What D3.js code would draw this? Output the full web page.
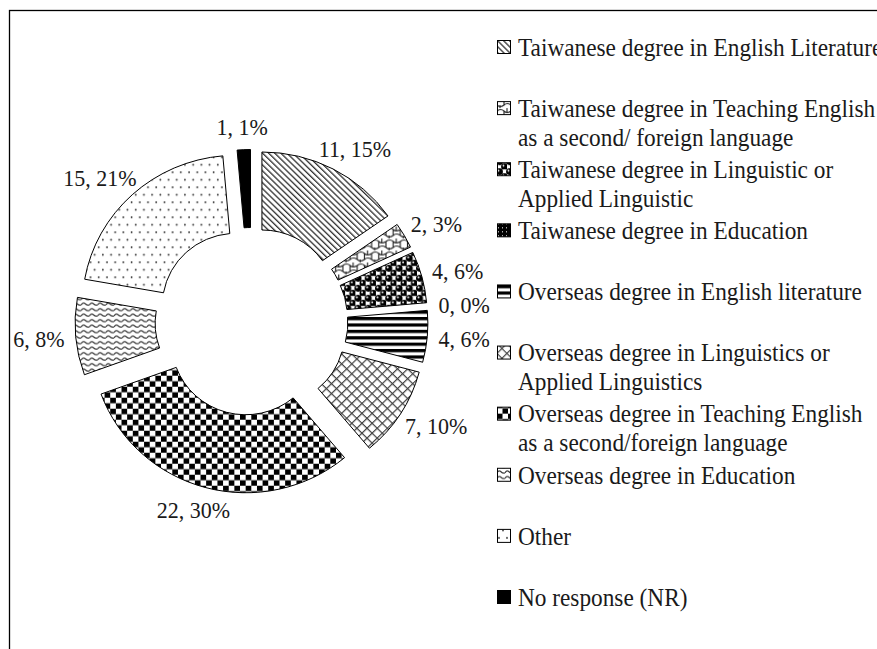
<!DOCTYPE html>
<html>
<head>
<meta charset="utf-8">
<script src="https://cdn.jsdelivr.net/npm/d3@7"></script>
<style>
  body { margin: 0; background: #fff; }
  text { font-family: "Liberation Serif", "Times New Roman", serif; fill: #1a1a1a; }
</style>
</head>
<body>
<div id="chart"></div>
<script>
// data
var categories = [
  "Taiwanese degree in English Literature",
  "Taiwanese degree in Teaching English\nas a second/ foreign language",
  "Taiwanese degree in Linguistic or\nApplied Linguistic",
  "Taiwanese degree in Education",
  "Overseas degree in English literature",
  "Overseas degree in Linguistics or\nApplied Linguistics",
  "Overseas degree in Teaching English\nas a second/foreign language",
  "Overseas degree in Education",
  "Other",
  "No response (NR)"
];
var counts = [11, 2, 4, 0, 4, 7, 22, 6, 15, 1];
var percents = ["15%", "3%", "6%", "0%", "6%", "10%", "30%", "8%", "21%", "1%"];
var fills = ["diag", "web", "balls", "speck", "hstripe", "xhatch", "checker", "wave", "dots", "solid"];

var W = 877, H = 649;
var cx = 251.5, cy = 321.5, R = 150, r = 72, explode = 22, sx = 1.026;
var labelPad = 11;

var svg = d3.select("div#chart").append("svg")
  .attr("width", W).attr("height", H);

// frame (runs off the right and bottom)
svg.append("rect").attr("x", 9.5).attr("y", 10.5).attr("width", 1000).attr("height", 1000)
  .attr("fill", "none").attr("stroke", "#000").attr("stroke-width", 1.3);

var defs = svg.append("defs");

function pat(id, w, h, tr) {
  var p = defs.append("pattern").attr("id", id).attr("patternUnits", "userSpaceOnUse")
    .attr("width", w).attr("height", h);
  if (tr) p.attr("patternTransform", tr);
  p.append("rect").attr("width", w).attr("height", h).attr("fill", "#fff");
  return p;
}

// \\\ lines
pat("diag", 4.2, 4.2, "rotate(-45)").append("rect")
  .attr("x", 0).attr("width", 1.3).attr("height", 4.2).attr("fill", "#333");

// web/trellis
var pw = pat("web", 14, 12);
pw.append("path").attr("d", "M0,3 Q4,0 7,3 T14,3 M7,3 L7,9 M0,3 L0,9 M14,3 L14,9 M0,9 Q3,12 7,9 Q10,6 14,9 M3,9 L3,12 M10,0 L10,4")
  .attr("fill", "none").attr("stroke", "#222").attr("stroke-width", 1.1);

// black balls
var pb = pat("balls", 10, 10);
pb.append("circle").attr("cx", 7.5).attr("cy", 2.5).attr("r", 2.4).attr("fill", "#fff").attr("stroke", "#999").attr("stroke-width", 0.5);
[[2.5, 2.5], [7.5, 7.5]].forEach(function (c) {
  pb.append("circle").attr("cx", c[0]).attr("cy", c[1]).attr("r", 3.4).attr("fill", "#000");
  pb.append("circle").attr("cx", c[0] - 1).attr("cy", c[1] - 1).attr("r", 0.9).attr("fill", "#fff");
});
pb.append("circle").attr("cx", 2.5).attr("cy", 12.5).attr("r", 3.4).attr("fill", "#000");
pb.append("circle").attr("cx", 12.5).attr("cy", 2.5).attr("r", 3.4).attr("fill", "#000");

// black with white specks
var ps = pat("speck", 4, 4);
ps.select("rect").attr("fill", "#000");
ps.append("rect").attr("x", 1).attr("y", 1).attr("width", 1).attr("height", 1).attr("fill", "#fff");

// horizontal stripes
pat("hstripe", 6.4, 6.4).append("rect").attr("y", 0).attr("width", 6.4).attr("height", 3.2).attr("fill", "#000");

// diagonal crosshatch
var px = pat("xhatch", 7, 7, "rotate(45)");
px.append("rect").attr("width", 1.2).attr("height", 7).attr("fill", "#444");
px.append("rect").attr("width", 7).attr("height", 1.2).attr("fill", "#444");

// checkerboard
var pc = pat("checker", 11, 11);
pc.append("rect").attr("width", 5.5).attr("height", 5.5).attr("fill", "#000");
pc.append("rect").attr("x", 5.5).attr("y", 5.5).attr("width", 5.5).attr("height", 5.5).attr("fill", "#000");

// waves
pat("wave", 8, 5.5).append("path").attr("d", "M0,3.5 Q2,0.5 4,2.5 T8,3.5")
  .attr("fill", "none").attr("stroke", "#333").attr("stroke-width", 1.2);

// sparse dots
var pd = pat("dots", 16, 15);
[[2, 2], [10, 2], [6, 9.5], [14, 9.5]].forEach(function (c) {
  pd.append("circle").attr("cx", c[0]).attr("cy", c[1]).attr("r", 0.9).attr("fill", "#333");
});

function fillOf(k) { return k === "solid" ? "#000" : "url(#" + k + ")"; }

var pie = d3.pie().sort(null).value(function (d) { return d; });
var arcs = pie(counts);
var arc = d3.arc().innerRadius(r).outerRadius(R);

function mid(d) { return (d.startAngle + d.endAngle) / 2; }

var g = svg.append("g").attr("transform", "translate(" + cx + "," + cy + ") scale(" + sx + ",1)");

g.selectAll("path.slice")
  .data(arcs.filter(function (d) { return d.value > 0; }))
  .enter().append("path")
  .attr("class", "slice")
  .attr("d", arc)
  .attr("transform", function (d) {
    var a = mid(d);
    return "translate(" + (Math.sin(a) * explode) + "," + (-Math.cos(a) * explode) + ")";
  })
  .attr("fill", function (d) { return fillOf(fills[d.index]); })
  .attr("stroke", "#000").attr("stroke-width", 1)
  .attr("vector-effect", "non-scaling-stroke");

// labels: text box touches a point just outside the exploded ring
var lblH = 24;
var lbl = svg.append("g").selectAll("text.lbl")
  .data(arcs)
  .enter().append("text")
  .attr("class", "lbl")
  .style("font-size", "22px")
  .attr("text-anchor", "middle")
  .attr("dy", "0.35em")
  .text(function (d) { return d.value + ", " + percents[d.index]; });

lbl.attr("transform", function (d) {
  var a = mid(d), rr = R + explode + labelPad;
  var w = this.getComputedTextLength();
  var x = cx + sx * Math.sin(a) * rr + Math.sin(a) * w / 2;
  var y = cy - Math.cos(a) * rr - Math.cos(a) * lblH / 2;
  return "translate(" + x + "," + y + ") scale(1,1.05)";
});

// legend
var ly = d3.scaleLinear().domain([0, categories.length - 1]).range([47, 597]);
var leg = svg.append("g").selectAll("g").data(categories).enter().append("g")
  .attr("transform", function (d, i) { return "translate(497," + ly(i) + ")"; });

leg.append("rect").attr("x", 0.5).attr("y", -6.5).attr("width", 13).attr("height", 13)
  .attr("fill", function (d, i) { return fillOf(fills[i]); })
  .attr("stroke", "#000").attr("stroke-width", 1);

leg.append("text")
  .attr("transform", "scale(1,1.08)")
  .style("font-size", "23.3px")
  .selectAll("tspan").data(function (d) { return d.split("\n"); }).enter().append("tspan")
  .attr("x", 21)
  .attr("y", function (d, j) { return j * 29 / 1.08; })
  .attr("dy", "0.35em")
  .text(function (d) { return d; });
</script>
</body>
</html>
